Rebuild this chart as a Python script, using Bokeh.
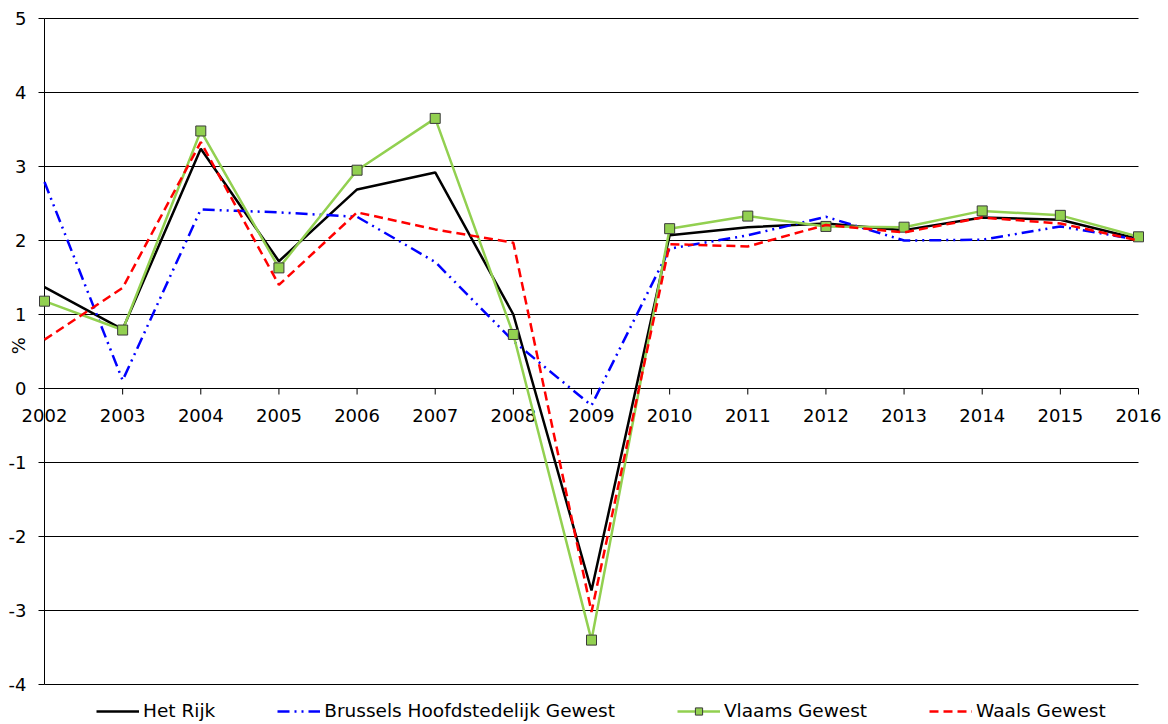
import math
from bokeh.plotting import figure
from bokeh.models import Legend, LegendItem, Range1d
from bokeh.core.properties import value
from bokeh.embed import file_html
from bokeh.resources import INLINE

# ---- data ----
years = list(range(2002, 2017))
year_labels = [str(y) for y in years]
het_rijk = [1.37, 0.80, 3.24, 1.72, 2.69, 2.92, 1.00, -2.73, 2.07, 2.18, 2.23, 2.14, 2.31, 2.28, 2.02]
brussel = [2.79, 0.11, 2.42, 2.38, 2.32, 1.71, 0.64, -0.23, 1.89, 2.07, 2.32, 2.00, 2.01, 2.19, 2.01]
vlaams = [1.18, 0.79, 3.48, 1.63, 2.95, 3.65, 0.73, -3.40, 2.16, 2.33, 2.19, 2.18, 2.40, 2.34, 2.05]
waals = [0.66, 1.36, 3.33, 1.40, 2.38, 2.15, 1.97, -3.02, 1.95, 1.92, 2.21, 2.11, 2.31, 2.23, 2.00]
y_ticks = list(range(-4, 6))
y_labels = [str(t) for t in y_ticks]
names = ["Het Rijk", "Brussels Hoofdstedelijk Gewest", "Vlaams Gewest", "Waals Gewest"]
unit_label = "%"

# ---- layout (pixels) ----
FONT = "DejaVu Sans"
W, H = 1168, 724
X0_PX, X1_PX = 44, 1138       # where first / last year sit
YT_PX, YB_PX = 18, 684        # where top / bottom y tick sit (from top)
TICK = 6

xs = (X1_PX - X0_PX) / (years[-1] - years[0])
ys = (YB_PX - YT_PX) / (y_ticks[-1] - y_ticks[0])
x_start = years[0] - X0_PX / xs
x_end = years[-1] + (W - X1_PX) / xs
y_end = y_ticks[-1] + YT_PX / ys
y_start = y_ticks[0] - (H - YB_PX) / ys

p = figure(width=W, height=H, x_range=Range1d(x_start, x_end), y_range=Range1d(y_start, y_end),
           output_backend="svg", toolbar_location=None, x_axis_type=None, y_axis_type=None,
           min_border=0, min_border_left=0, min_border_right=0, min_border_top=0,
           min_border_bottom=0)
p.outline_line_color = None
p.background_fill_color = "white"
p.border_fill_color = "white"
p.grid.visible = False

n_y = len(y_ticks)
n_x = len(years)
xmin, xmax = years[0], years[-1]

# horizontal gridlines
p.segment(x0=[xmin] * n_y, x1=[xmax] * n_y, y0=y_ticks, y1=y_ticks,
          line_color="black", line_width=1)
# y axis line + ticks + labels
p.segment(x0=[xmin], x1=[xmin], y0=[y_ticks[0]], y1=[y_ticks[-1]], line_color="black", line_width=1)
p.segment(x0=[xmin - TICK / xs] * n_y, x1=[xmin] * n_y, y0=y_ticks, y1=y_ticks,
          line_color="black", line_width=1)
p.text(x=[xmin] * n_y, y=y_ticks, text=y_labels, x_offset=-18, text_align="right",
       text_baseline="middle", text_font=value(FONT), text_font_size="18px", text_color="black")

# x axis on the zero line: ticks + labels
zeros = [0] * n_x
p.segment(x0=years, x1=years, y0=zeros, y1=[-TICK / ys] * n_x, line_color="black", line_width=1)
p.text(x=years, y=zeros, text=year_labels, y_offset=20, text_align="center",
       text_baseline="top", text_font=value(FONT), text_font_size="18px", text_color="black")

# unit label
p.text(x=[xmin], y=[0.58], text=[unit_label], x_offset=-26, angle=math.pi / 2,
       text_align="center", text_baseline="middle", text_font=value(FONT),
       text_font_size="18px", text_color="black")

# series
r_rijk = p.line(years, het_rijk, line_color="black", line_width=2.5)
r_brus = p.line(years, brussel, line_color="#0000FF", line_width=2.5, line_dash="12 5 2 5 2 5")
r_vl_line = p.line(years, vlaams, line_color="#92D050", line_width=2.5)
r_vl_pts = p.scatter(years, vlaams, marker="square", size=10, fill_color="#92D050",
                     line_color="#3A3A3A", line_width=1)
r_waals = p.line(years, waals, line_color="#FF0000", line_width=2.5, line_dash="9 5")

legend = Legend(items=[
    LegendItem(label=names[0], renderers=[r_rijk]),
    LegendItem(label=names[1], renderers=[r_brus]),
    LegendItem(label=names[2], renderers=[r_vl_line, r_vl_pts]),
    LegendItem(label=names[3], renderers=[r_waals]),
], orientation="horizontal", location=(96, 3), border_line_color=None,
    background_fill_alpha=0, label_text_font=FONT, label_text_font_size="18.5px",
    label_text_color="black", label_height=18,
    glyph_width=43, glyph_height=18, spacing=62, label_standoff=4,
    padding=0, margin=0)
p.add_layout(legend)

open("out.html", "w").write(file_html(p, INLINE))
